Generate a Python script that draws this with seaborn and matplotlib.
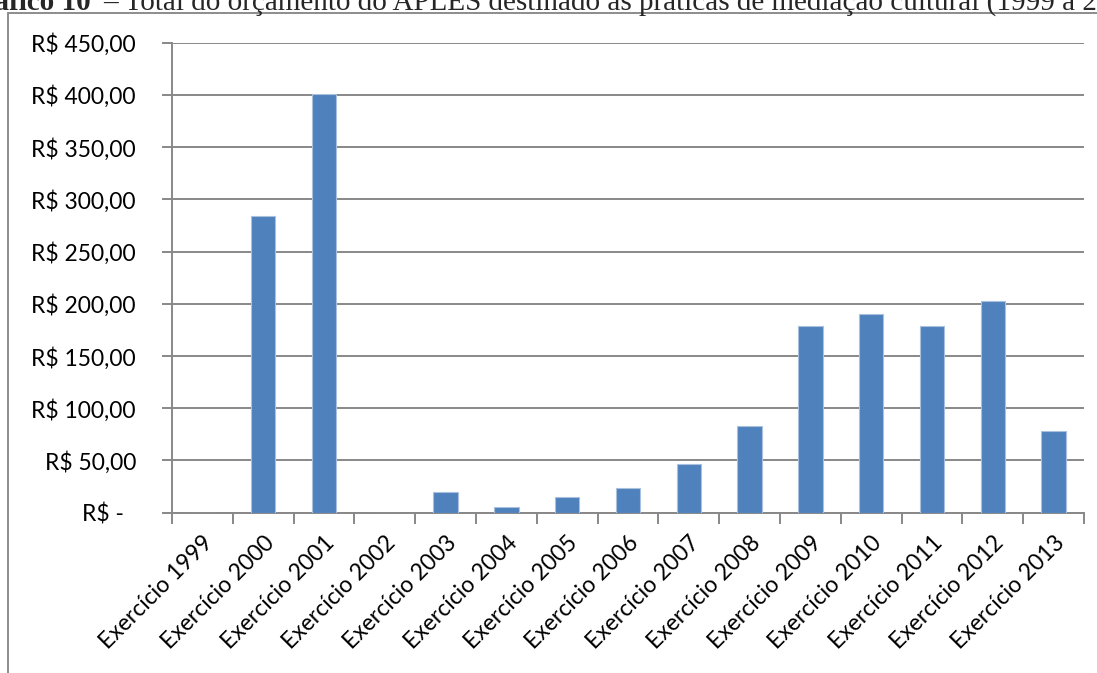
import matplotlib
matplotlib.use("Agg")
import matplotlib.pyplot as plt
import seaborn as sns
import pandas as pd
from matplotlib.lines import Line2D

# Budget of APLES spent on cultural mediation practices, per fiscal year (R$)
years = ["Exercício 1999", "Exercício 2000", "Exercício 2001", "Exercício 2002",
         "Exercício 2003", "Exercício 2004", "Exercício 2005", "Exercício 2006",
         "Exercício 2007", "Exercício 2008", "Exercício 2009", "Exercício 2010",
         "Exercício 2011", "Exercício 2012", "Exercício 2013"]
values = [0, 284, 401, 0, 20, 5, 14.7, 23.6, 46.6, 83, 179, 190.5, 178.7, 202.5, 78]
yticks = [0, 50, 100, 150, 200, 250, 300, 350, 400, 450]
ytick_labels = ["R\\$ -  ", "R\\$ 50,00", "R\\$ 100,00", "R\\$ 150,00", "R\\$ 200,00",
                "R\\$ 250,00", "R\\$ 300,00", "R\\$ 350,00", "R\\$ 400,00", "R\\$ 450,00"]

title_bold = "Gráfico 10"
title_rest = "– Total do orçamento do APLES destinado às práticas de mediação cultural (1999 a 2013)"

sns.set_style("white")
plt.rcParams["font.family"] = ["Lato", "DejaVu Sans"]

W, H = 1097, 673
fig = plt.figure(figsize=(W / 100, H / 100), dpi=100)
ax = fig.add_axes([172 / W, 1 - 512.7 / H, (1084 - 172) / W, (512.7 - 42.7) / H])

df = pd.DataFrame({"ano": years, "valor": values})
sns.barplot(data=df, x="ano", y="valor", color="#4F81BD", saturation=1,
            width=0.4, edgecolor="#A9C1DF", linewidth=0.8, ax=ax, zorder=3)

grid_c = "#888888"
ax.set_ylim(0, 450)
ax.set_xlim(-0.5, len(years) - 0.5)
ax.set_yticks(yticks)
ax.set_yticklabels(ytick_labels)
ax.yaxis.grid(True, color=grid_c, linewidth=1.4, zorder=0)
ax.set_axisbelow(True)
ax.set_xlabel("")
ax.set_ylabel("")

for s in ["top", "right"]:
    ax.spines[s].set_visible(False)
for s in ["left", "bottom"]:
    ax.spines[s].set_color(grid_c)
    ax.spines[s].set_linewidth(1.4)

ax.tick_params(axis="y", direction="out", length=7, width=1.4, color=grid_c,
               pad=19, labelsize=16.5, labelcolor="black", left=True)
ax.set_xticks(range(len(years)))
ax.set_xticklabels(years, rotation=45, ha="right", rotation_mode="anchor")
ax.tick_params(axis="x", which="major", length=0, pad=14, labelsize=16.5, labelcolor="black")
ax.set_xticks([i - 0.5 for i in range(len(years) + 1)], minor=True)
ax.tick_params(axis="x", which="minor", direction="out", length=8, width=1.4,
               color=grid_c, bottom=True)

# outer frame of the chart object
fig.add_artist(Line2D([8 / W, 8 / W], [0, 1 - 13 / H], transform=fig.transFigure,
                      color="#8C8C8C", linewidth=1.4))
fig.add_artist(Line2D([8 / W, 1], [1 - 13 / H, 1 - 13 / H], transform=fig.transFigure,
                      color="#8C8C8C", linewidth=1.4))

# caption above the frame
fig.text(91 / W, 1 - 10 / H, title_bold, ha="right", va="baseline",
         fontsize=21, fontweight="bold", family="Liberation Serif")
fig.text(103 / W, 1 - 10 / H, title_rest, ha="left", va="baseline",
         fontsize=21, family="Liberation Serif")

fig.savefig("out.png", dpi=100)
